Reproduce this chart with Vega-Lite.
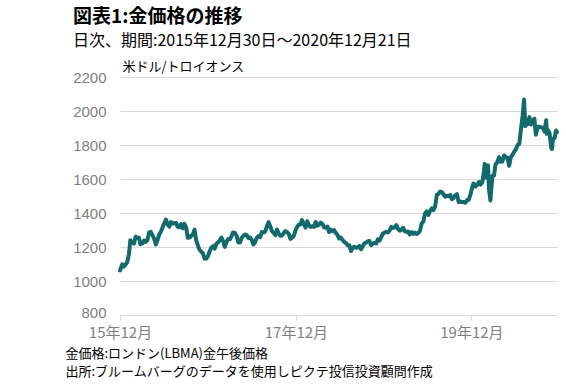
{
  "$schema": "https://vega.github.io/schema/vega-lite/v6.json",
  "width": 437,
  "height": 238,
  "autosize": {"type": "none"},
  "padding": {"left": 120, "top": 77, "right": 9, "bottom": 69},
  "background": "white",
  "config": {
    "font": "Noto Sans CJK JP",
    "view": {"stroke": null}
  },
  "title": {
    "text": "図表1:金価格の推移",
    "subtitle": "日次、期間:2015年12月30日～2020年12月21日",
    "anchor": "start",
    "frame": "group",
    "dx": -47,
    "offset": 11,
    "font": "Noto Sans CJK JP",
    "fontSize": 19,
    "fontWeight": "bold",
    "color": "#000000",
    "subtitleFont": "Noto Sans CJK JP",
    "subtitleFontSize": 16,
    "subtitleColor": "#000000",
    "subtitlePadding": 6
  },
  "data": {
    "values": [
      {"d":"2015-12-30","p":1062},{"d":"2016-01-08","p":1098},{"d":"2016-01-15","p":1085},{"d":"2016-01-22","p":1097},{"d":"2016-01-29","p":1111},
      {"d":"2016-02-05","p":1157},{"d":"2016-02-11","p":1240},{"d":"2016-02-19","p":1226},{"d":"2016-02-26","p":1220},{"d":"2016-03-04","p":1260},
      {"d":"2016-03-11","p":1255},{"d":"2016-03-18","p":1254},{"d":"2016-03-24","p":1216},{"d":"2016-04-01","p":1221},{"d":"2016-04-08","p":1238},
      {"d":"2016-04-15","p":1230},{"d":"2016-04-22","p":1240},{"d":"2016-04-29","p":1286},{"d":"2016-05-06","p":1289},{"d":"2016-05-13","p":1270},
      {"d":"2016-05-20","p":1250},{"d":"2016-05-27","p":1215},{"d":"2016-06-03","p":1240},{"d":"2016-06-10","p":1273},{"d":"2016-06-17","p":1290},
      {"d":"2016-06-24","p":1315},{"d":"2016-07-01","p":1340},{"d":"2016-07-08","p":1362},{"d":"2016-07-15","p":1332},{"d":"2016-07-22","p":1320},
      {"d":"2016-07-29","p":1347},{"d":"2016-08-05","p":1337},{"d":"2016-08-12","p":1340},{"d":"2016-08-19","p":1342},{"d":"2016-08-26","p":1320},
      {"d":"2016-09-02","p":1316},{"d":"2016-09-09","p":1335},{"d":"2016-09-16","p":1310},{"d":"2016-09-23","p":1336},{"d":"2016-09-30","p":1316},
      {"d":"2016-10-07","p":1254},{"d":"2016-10-14","p":1256},{"d":"2016-10-21","p":1266},{"d":"2016-10-28","p":1273},{"d":"2016-11-04","p":1302},
      {"d":"2016-11-11","p":1240},{"d":"2016-11-18","p":1209},{"d":"2016-11-25","p":1183},{"d":"2016-12-02","p":1173},{"d":"2016-12-09","p":1162},
      {"d":"2016-12-16","p":1131},{"d":"2016-12-23","p":1132},{"d":"2016-12-30","p":1146},{"d":"2017-01-06","p":1175},{"d":"2017-01-13","p":1196},
      {"d":"2017-01-20","p":1205},{"d":"2017-01-27","p":1190},{"d":"2017-02-03","p":1219},{"d":"2017-02-10","p":1227},{"d":"2017-02-17","p":1240},
      {"d":"2017-02-24","p":1256},{"d":"2017-03-03","p":1234},{"d":"2017-03-10","p":1201},{"d":"2017-03-17","p":1229},{"d":"2017-03-24","p":1247},
      {"d":"2017-03-31","p":1245},{"d":"2017-04-07","p":1264},{"d":"2017-04-13","p":1285},{"d":"2017-04-21","p":1283},{"d":"2017-04-28","p":1266},
      {"d":"2017-05-05","p":1228},{"d":"2017-05-12","p":1226},{"d":"2017-05-19","p":1253},{"d":"2017-05-26","p":1265},{"d":"2017-06-02","p":1274},
      {"d":"2017-06-09","p":1270},{"d":"2017-06-16","p":1253},{"d":"2017-06-23","p":1256},{"d":"2017-06-30","p":1242},{"d":"2017-07-07","p":1215},
      {"d":"2017-07-14","p":1229},{"d":"2017-07-21","p":1254},{"d":"2017-07-28","p":1264},{"d":"2017-08-04","p":1258},{"d":"2017-08-11","p":1288},
      {"d":"2017-08-18","p":1285},{"d":"2017-08-25","p":1291},{"d":"2017-09-01","p":1322},{"d":"2017-09-08","p":1346},{"d":"2017-09-15","p":1322},
      {"d":"2017-09-22","p":1294},{"d":"2017-09-29","p":1283},{"d":"2017-10-06","p":1270},{"d":"2017-10-13","p":1303},{"d":"2017-10-20","p":1280},
      {"d":"2017-10-27","p":1266},{"d":"2017-11-03","p":1268},{"d":"2017-11-10","p":1282},{"d":"2017-11-17","p":1294},{"d":"2017-11-24","p":1287},
      {"d":"2017-12-01","p":1278},{"d":"2017-12-08","p":1248},{"d":"2017-12-15","p":1256},{"d":"2017-12-22","p":1266},{"d":"2017-12-29","p":1297},
      {"d":"2018-01-05","p":1318},{"d":"2018-01-12","p":1332},{"d":"2018-01-19","p":1333},{"d":"2018-01-25","p":1358},{"d":"2018-02-02","p":1333},
      {"d":"2018-02-09","p":1314},{"d":"2018-02-16","p":1352},{"d":"2018-02-23","p":1328},{"d":"2018-03-02","p":1318},{"d":"2018-03-09","p":1322},
      {"d":"2018-03-16","p":1318},{"d":"2018-03-23","p":1347},{"d":"2018-03-29","p":1325},{"d":"2018-04-06","p":1332},{"d":"2018-04-13","p":1343},
      {"d":"2018-04-20","p":1336},{"d":"2018-04-27","p":1316},{"d":"2018-05-04","p":1313},{"d":"2018-05-11","p":1320},{"d":"2018-05-18","p":1288},
      {"d":"2018-05-25","p":1303},{"d":"2018-06-01","p":1293},{"d":"2018-06-08","p":1299},{"d":"2018-06-15","p":1282},{"d":"2018-06-22","p":1270},
      {"d":"2018-06-29","p":1250},{"d":"2018-07-06","p":1256},{"d":"2018-07-13","p":1241},{"d":"2018-07-20","p":1230},{"d":"2018-07-27","p":1223},
      {"d":"2018-08-03","p":1211},{"d":"2018-08-10","p":1211},{"d":"2018-08-17","p":1176},{"d":"2018-08-24","p":1195},{"d":"2018-08-31","p":1201},
      {"d":"2018-09-07","p":1196},{"d":"2018-09-14","p":1198},{"d":"2018-09-21","p":1206},{"d":"2018-09-28","p":1187},{"d":"2018-10-05","p":1204},
      {"d":"2018-10-12","p":1222},{"d":"2018-10-19","p":1226},{"d":"2018-10-26","p":1234},{"d":"2018-11-02","p":1235},{"d":"2018-11-09","p":1211},
      {"d":"2018-11-16","p":1220},{"d":"2018-11-23","p":1225},{"d":"2018-11-30","p":1221},{"d":"2018-12-07","p":1245},{"d":"2018-12-14","p":1238},
      {"d":"2018-12-21","p":1259},{"d":"2018-12-28","p":1279},{"d":"2019-01-04","p":1285},{"d":"2019-01-11","p":1290},{"d":"2019-01-18","p":1285},
      {"d":"2019-01-25","p":1297},{"d":"2019-02-01","p":1318},{"d":"2019-02-08","p":1312},{"d":"2019-02-15","p":1316},{"d":"2019-02-22","p":1329},
      {"d":"2019-03-01","p":1306},{"d":"2019-03-08","p":1296},{"d":"2019-03-15","p":1301},{"d":"2019-03-22","p":1313},{"d":"2019-03-29","p":1292},
      {"d":"2019-04-05","p":1290},{"d":"2019-04-12","p":1291},{"d":"2019-04-18","p":1274},{"d":"2019-04-26","p":1287},{"d":"2019-05-03","p":1277},
      {"d":"2019-05-10","p":1285},{"d":"2019-05-17","p":1277},{"d":"2019-05-24","p":1282},{"d":"2019-05-31","p":1295},{"d":"2019-06-07","p":1338},
      {"d":"2019-06-14","p":1350},{"d":"2019-06-21","p":1397},{"d":"2019-06-28","p":1409},{"d":"2019-07-05","p":1389},{"d":"2019-07-12","p":1413},
      {"d":"2019-07-19","p":1427},{"d":"2019-07-26","p":1417},{"d":"2019-08-02","p":1440},{"d":"2019-08-09","p":1506},{"d":"2019-08-16","p":1513},
      {"d":"2019-08-23","p":1526},{"d":"2019-08-30","p":1523},{"d":"2019-09-06","p":1509},{"d":"2019-09-13","p":1496},{"d":"2019-09-20","p":1502},
      {"d":"2019-09-27","p":1498},{"d":"2019-10-04","p":1506},{"d":"2019-10-11","p":1481},{"d":"2019-10-18","p":1490},{"d":"2019-10-25","p":1504},
      {"d":"2019-11-01","p":1511},{"d":"2019-11-08","p":1464},{"d":"2019-11-15","p":1468},{"d":"2019-11-22","p":1464},{"d":"2019-11-29","p":1464},
      {"d":"2019-12-06","p":1460},{"d":"2019-12-13","p":1476},{"d":"2019-12-20","p":1478},{"d":"2019-12-27","p":1510},{"d":"2020-01-03","p":1549},
      {"d":"2020-01-08","p":1574},{"d":"2020-01-17","p":1557},{"d":"2020-01-24","p":1565},{"d":"2020-01-31","p":1582},{"d":"2020-02-07","p":1567},
      {"d":"2020-02-14","p":1580},{"d":"2020-02-21","p":1643},{"d":"2020-02-24","p":1689},{"d":"2020-02-28","p":1609},{"d":"2020-03-06","p":1673},
      {"d":"2020-03-09","p":1680},{"d":"2020-03-13","p":1541},{"d":"2020-03-19","p":1474},{"d":"2020-03-27","p":1618},{"d":"2020-04-03","p":1620},
      {"d":"2020-04-09","p":1684},{"d":"2020-04-17","p":1700},{"d":"2020-04-24","p":1729},{"d":"2020-05-01","p":1701},{"d":"2020-05-08","p":1703},
      {"d":"2020-05-15","p":1740},{"d":"2020-05-22","p":1728},{"d":"2020-05-29","p":1725},{"d":"2020-06-05","p":1678},{"d":"2020-06-12","p":1730},
      {"d":"2020-06-19","p":1742},{"d":"2020-06-26","p":1761},{"d":"2020-07-03","p":1775},{"d":"2020-07-10","p":1800},{"d":"2020-07-17","p":1806},
      {"d":"2020-07-24","p":1891},{"d":"2020-07-31","p":1974},{"d":"2020-08-06","p":2067},{"d":"2020-08-11","p":1911},{"d":"2020-08-14","p":1944},
      {"d":"2020-08-21","p":1923},{"d":"2020-08-28","p":1964},{"d":"2020-09-04","p":1921},{"d":"2020-09-11","p":1946},{"d":"2020-09-18","p":1955},
      {"d":"2020-09-24","p":1860},{"d":"2020-10-02","p":1907},{"d":"2020-10-09","p":1908},{"d":"2020-10-16","p":1903},{"d":"2020-10-23","p":1902},
      {"d":"2020-10-30","p":1879},{"d":"2020-11-06","p":1946},{"d":"2020-11-09","p":1866},{"d":"2020-11-13","p":1888},{"d":"2020-11-20","p":1871},
      {"d":"2020-11-27","p":1784},{"d":"2020-11-30","p":1776},{"d":"2020-12-04","p":1837},{"d":"2020-12-11","p":1840},{"d":"2020-12-17","p":1885},
      {"d":"2020-12-21","p":1876}
    ]
  },
  "mark": {"type": "line", "color": "#136a6d", "strokeWidth": 4, "strokeJoin": "round", "strokeCap": "round"},
  "encoding": {
    "x": {
      "field": "d",
      "type": "temporal",
      "scale": {"domain": [{"year": 2015, "month": 12, "date": 30, "utc": true}, {"year": 2020, "month": 12, "date": 21, "utc": true}], "nice": false},
      "axis": {
        "values": [{"year": 2015, "month": 12, "date": 30, "utc": true}, {"year": 2017, "month": 12, "date": 31, "utc": true}, {"year": 2019, "month": 12, "date": 31, "utc": true}],
        "labelExpr": "utcFormat(datum.value, '%y年%m月')",
        "grid": false,
        "domain": true,
        "domainColor": "#d9d9d9",
        "domainWidth": 1,
        "ticks": true,
        "tickColor": "#d9d9d9",
        "tickSize": 5,
        "labelPadding": 5,
        "labelFont": "Noto Sans CJK JP",
        "labelFontSize": 15,
        "labelColor": "#7f7f7f",
        "labelAngle": 0,
        "labelAlign": "center",
        "labelOverlap": false,
        "title": ["金価格:ロンドン(LBMA)金午後価格", "出所:ブルームバーグのデータを使用しピクテ投信投資顧問作成"],
        "titleFont": "Noto Sans CJK JP",
        "titleFontSize": 13,
        "titleFontWeight": "normal",
        "titleColor": "#000000",
        "titleAlign": "left",
        "titleAnchor": "start",
        "titleBaseline": "top",
        "titleLineHeight": 18.8,
        "titleX": -55,
        "titleY": 32
      }
    },
    "y": {
      "field": "p",
      "type": "quantitative",
      "scale": {"domain": [800, 2200], "nice": false, "zero": false},
      "axis": {
        "values": [800, 1000, 1200, 1400, 1600, 1800, 2000, 2200],
        "format": "d",
        "grid": true,
        "gridColor": "#d9d9d9",
        "gridWidth": 1,
        "domain": false,
        "ticks": false,
        "labelPadding": 14,
        "labelOffset": {"condition": {"test": "datum.value == 800", "value": -3}, "value": 0},
        "labelFont": "Liberation Sans, Noto Sans CJK JP",
        "labelFontSize": 15,
        "labelColor": "#7f7f7f",
        "title": "米ドル/トロイオンス",
        "titleFont": "Noto Sans CJK JP",
        "titleFontSize": 13,
        "titleFontWeight": "normal",
        "titleColor": "#000000",
        "titleAngle": 0,
        "titleAlign": "left",
        "titleBaseline": "bottom",
        "titleX": 2,
        "titleY": -4
      }
    }
  }
}
